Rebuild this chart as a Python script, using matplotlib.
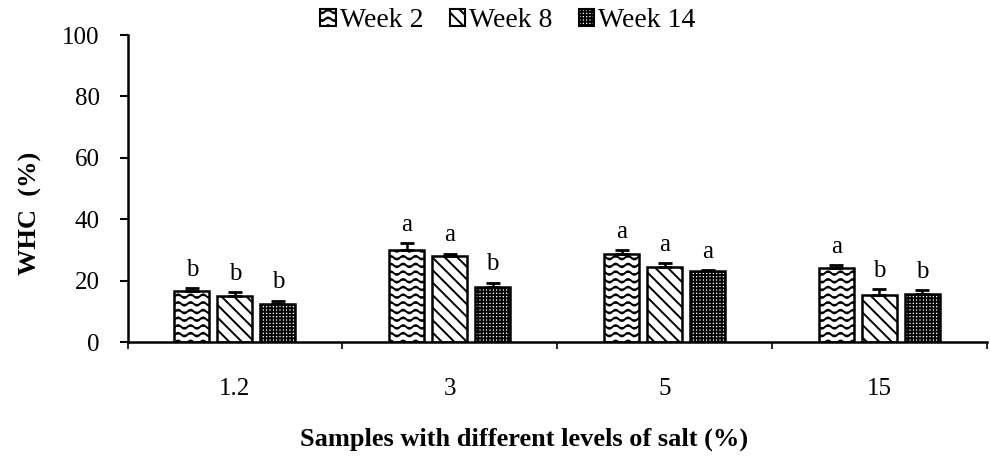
import warnings
warnings.filterwarnings("ignore")
import numpy as np
import matplotlib
matplotlib.use("Agg")
import matplotlib.pyplot as plt
import matplotlib.hatch as mhatch
from matplotlib.path import Path
from matplotlib.patches import Patch

# ---------------- data ----------------
categories = ["1.2", "3", "5", "15"]
series_names = ["Week 2", "Week 8", "Week 14"]
week2 = [16.5, 30.0, 28.6, 24.2]
week2_err = [1.0, 2.3, 1.4, 0.9]
week8 = [15.0, 28.0, 24.4, 15.4]
week8_err = [1.3, 0.8, 1.2, 1.8]
week14 = [12.4, 17.8, 23.0, 15.5]
week14_err = [1.1, 1.5, 0.5, 1.5]
letters2 = ["b", "a", "a", "a"]
letters8 = ["b", "a", "a", "b"]
letters14 = ["b", "b", "a", "b"]
yticks = [0, 20, 40, 60, 80, 100]


# ---------------- custom hatches: 'w' wavy, 'd' dense diagonal ----------------
class WaveHatch(mhatch.HatchPatternBase):
    def __init__(self, hatch, density):
        self.num_lines = 13 if "w" in hatch else 0
        self.npts = 81
        self.num_vertices = self.num_lines * self.npts

    def set_vertices_and_codes(self, vertices, codes):
        t = np.linspace(0, 1, self.npts)
        for i in range(self.num_lines):
            y0 = (i + 0.5) / self.num_lines
            sl = slice(i * self.npts, (i + 1) * self.npts)
            vertices[sl, 0] = t
            vertices[sl, 1] = y0 + 0.018 * np.sin(2 * np.pi * 8 * t)
            codes[sl] = Path.LINETO
            codes[i * self.npts] = Path.MOVETO


class DiagHatch(mhatch.HatchPatternBase):
    def __init__(self, hatch, density):
        self.num_lines = 16 if "d" in hatch else 0
        self.num_vertices = (self.num_lines + 1) * 2 if self.num_lines else 0

    def set_vertices_and_codes(self, vertices, codes):
        steps = np.linspace(-0.5, 0.5, self.num_lines + 1)
        vertices[0::2, 0] = 0.0 + steps
        vertices[0::2, 1] = 1.0 + steps
        vertices[1::2, 0] = 1.0 + steps
        vertices[1::2, 1] = 0.0 + steps
        codes[0::2] = Path.MOVETO
        codes[1::2] = Path.LINETO


mhatch._hatch_types.append(WaveHatch)
mhatch._hatch_types.append(DiagHatch)

plt.rcParams["font.family"] = ["Liberation Serif", "DejaVu Serif"]
plt.rcParams["hatch.linewidth"] = 1.4

fig = plt.figure(figsize=(9.9, 4.57), dpi=100)
ax = fig.add_axes([0.1288, 0.2516, 0.868, 0.6718])

x = np.arange(len(categories))
w = 0.163
off = 0.2
series = [
    (week2, week2_err, letters2, "w"),
    (week8, week8_err, letters8, "d"),
    (week14, week14_err, letters14, "+++++"),
]
handles = []
for k, (vals, errs, labs, hatch) in enumerate(series):
    xpos = x + (k - 1) * off
    ax.bar(xpos, vals, width=w, facecolor="white", edgecolor="black",
           linewidth=1.8, hatch=hatch, zorder=2)
    ax.errorbar(xpos, vals, yerr=[np.zeros(len(vals)), errs], fmt="none",
                ecolor="black", elinewidth=1.8, capsize=5, capthick=2.0, zorder=3)
    for xi, v, e, lab in zip(xpos, vals, errs, labs):
        ax.text(xi, v + e + 4.0, lab, ha="center", va="baseline", fontsize=18)
    handles.append(Patch(facecolor="white", edgecolor="black", hatch=hatch,
                         linewidth=1.5, label=series_names[k]))

ax.set_xlim(-0.5, 3.5)
ax.set_ylim(0, 100)
ax.set_yticks(yticks)
ax.tick_params(axis="y", direction="out", length=6, width=1.5, pad=14, labelsize=18)

ax.set_xticks(np.arange(-0.5, 3.6, 1.0))
ax.set_xticklabels([])
ax.tick_params(axis="x", which="major", direction="out", length=5, width=1.2)
ax.set_xticks(x, minor=True)
ax.set_xticklabels(categories, minor=True)
ax.tick_params(axis="x", which="minor", length=0, pad=26, labelsize=18)

for s in ["top", "right"]:
    ax.spines[s].set_visible(False)
for s in ["left", "bottom"]:
    ax.spines[s].set_linewidth(1.8)

ax.set_ylabel("WHC  (%)", fontsize=19, fontweight="bold")
ax.yaxis.set_label_coords(-0.1, 0.42)
ax.set_xlabel("Samples with different levels of salt (%)", fontsize=19, fontweight="bold")
ax.xaxis.set_label_coords(0.462, -0.28)

fig.legend(handles=handles, loc="upper center", bbox_to_anchor=(0.513, 1.037),
           ncol=3, frameon=False, fontsize=20, handlelength=0.55, handleheight=0.55,
           handletextpad=0.15, columnspacing=0.95)

fig.savefig("out.png", dpi=100)
